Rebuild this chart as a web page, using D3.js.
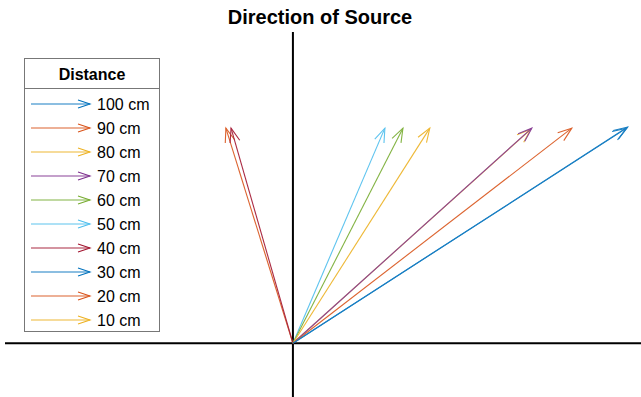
<!DOCTYPE html>
<html lang="en">
<head>
<meta charset="UTF-8">
<title>Direction of Source</title>
<script src="https://d3js.org/d3.v7.min.js"></script>
<style>
  body { margin: 0; background: #fff; }
  svg { display: block; font-family: Arial, "Liberation Sans", sans-serif; }
</style>
</head>
<body>
<div id="chart"></div>
<script>
const distances = ["100 cm", "90 cm", "80 cm", "70 cm", "60 cm", "50 cm", "40 cm", "30 cm", "20 cm", "10 cm"];
const tipX = [1.558, 1.298, 0.637, 1.112, 0.512, 0.428, -0.288, 1.553, -0.312, 1.107];
const tipY = [1.005, 1.0, 1.0, 1.0, 1.0, 1.0, 1.0, 1.0, 1.0, 0.995];
const colors = ["#0072BD", "#D95319", "#EDB120", "#7E2F8E", "#77AC30", "#4DBEEE", "#A2142F", "#0072BD", "#D95319", "#EDB120"];

const W = 641, H = 397;
const x = d3.scaleLinear().domain([-1.34, 1.62]).range([5, 641]);
const y = d3.scaleLinear().domain([-0.25, 1.447]).range([397, 32]);

const svg = d3.select("#chart").append("svg").attr("width", W).attr("height", H);

svg.append("text").attr("x", 320).attr("y", 24).attr("text-anchor", "middle")
  .attr("font-size", 20).attr("font-weight", "bold").text("Direction of Source");

// axes through origin
svg.append("line").attr("x1", x(-1.34)).attr("x2", x(1.62)).attr("y1", y(0)).attr("y2", y(0))
  .attr("stroke", "#000").attr("stroke-width", 2);
svg.append("line").attr("x1", x(0)).attr("x2", x(0)).attr("y1", y(-0.25)).attr("y2", y(1.447))
  .attr("stroke", "#000").attr("stroke-width", 2);

function arrowHead(g, x1, y1, x2, y2, color, len, half) {
  const a = Math.atan2(y2 - y1, x2 - x1);
  const bx = x2 - len * Math.cos(a), by = y2 - len * Math.sin(a);
  const px = -Math.sin(a) * half, py = Math.cos(a) * half;
  g.append("path")
    .attr("d", `M${bx + px},${by + py}L${x2},${y2}L${bx - px},${by - py}`)
    .attr("fill", "none").attr("stroke", color).attr("stroke-width", 1.1);
}

const data = distances.map((d, i) => ({ name: d, x: tipX[i], y: tipY[i], color: colors[i] }));

const arrows = svg.append("g").attr("opacity", 0.9);
data.slice().reverse().forEach(d => {
  arrows.append("line")
    .attr("x1", x(0)).attr("y1", y(0)).attr("x2", x(d.x)).attr("y2", y(d.y))
    .attr("stroke", d.color).attr("stroke-width", 1.1);
  arrowHead(arrows, x(0), y(0), x(d.x), y(d.y), d.color, 14, 5);
});

// legend
const leg = svg.append("g");
leg.append("rect").attr("x", 24.5).attr("y", 58.5).attr("width", 135).attr("height", 273)
  .attr("fill", "#fff").attr("stroke", "#777").attr("stroke-width", 1);
leg.append("line").attr("x1", 24.5).attr("x2", 159.5).attr("y1", 88.5).attr("y2", 88.5)
  .attr("stroke", "#777");
leg.append("text").attr("x", 92).attr("y", 80).attr("text-anchor", "middle")
  .attr("font-size", 16).attr("font-weight", "bold").text("Distance");

const rowY = d3.scalePoint().domain(distances).range([104, 320]);
data.forEach(d => {
  const yy = rowY(d.name);
  leg.append("line").attr("x1", 31).attr("x2", 90).attr("y1", yy).attr("y2", yy)
    .attr("stroke", d.color).attr("stroke-width", 1.1).attr("opacity", 0.9);
  arrowHead(leg, 31, yy, 90, yy, d.color, 12, 4);
  leg.append("text").attr("x", 97).attr("y", yy + 5.5).attr("font-size", 16).text(d.name);
});
</script>
</body>
</html>
